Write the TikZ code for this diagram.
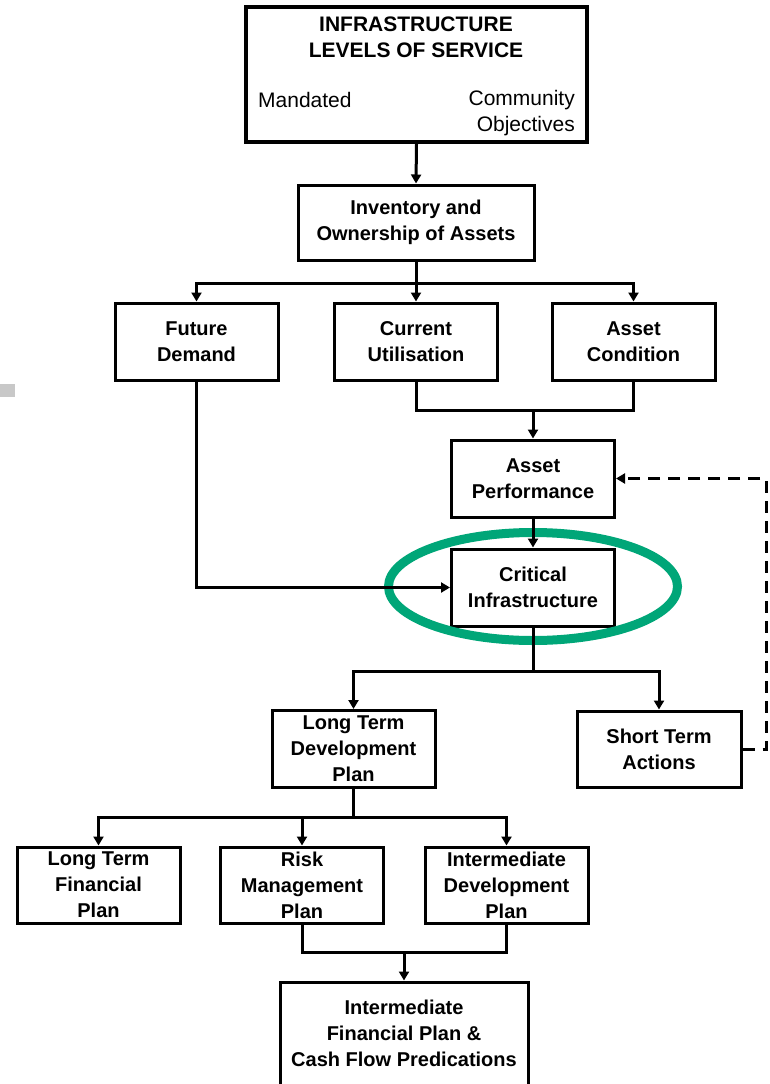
\documentclass[tikz,border=0pt]{standalone}
\usepackage{fontspec}
\setmainfont{Liberation Sans}
\usetikzlibrary{arrows.meta,shapes.geometric}
\definecolor{hlgreen}{RGB}{0,166,120}
\definecolor{markgrey}{RGB}{200,200,200}
\tikzset{
  box/.style={draw=black,line width=3pt,rectangle,align=center,inner sep=0pt,
    minimum width=163pt,minimum height=77pt,
    font=\fontsize{20}{26}\selectfont\bfseries},
  arr/.style={line width=3pt,-{Triangle[length=9pt,width=10pt]}},
  ln/.style={line width=3pt},
  dasharr/.style={line width=3pt,dash pattern=on 12pt off 8pt,-{Triangle[length=9pt,width=10pt]}},
  highlight/.style={draw=hlgreen,line width=9pt,ellipse,inner sep=0pt},
  txt/.style={inner sep=0pt,align=center,font=\fontsize{20}{26}\selectfont\bfseries},
  ttxt/.style={inner sep=0pt,align=center,font=\fontsize{21}{26}\selectfont\bfseries},
  rtxt/.style={inner sep=0pt,font=\fontsize{21}{26}\selectfont},
}
\begin{document}
\begin{tikzpicture}[x=1pt,y=-1pt]
\useasboundingbox (0,0) rectangle (769,1084);
\fill[markgrey] (0,384) rectangle (15,397);
% top box
\node[box,line width=4pt,minimum width=341pt,minimum height=135pt] (los) at (416.5,74.5) {};
\node[ttxt] (lostitle) at (416,37) {INFRASTRUCTURE\\LEVELS OF SERVICE};
\node[rtxt,anchor=west] (mand) at (258,100) {Mandated};
\node[rtxt,anchor=east,align=right] (comm) at (575,113) {Community\\Objectives};
% boxes
\node[box,minimum width=236pt,minimum height=75pt] (inv) at (416,222.5) {Inventory and\\Ownership of Assets};
\node[box] (fd) at (196.5,341.5) {Future\\Demand};
\node[box] (cu) at (416,341.5) {Current\\Utilisation};
\node[box] (ac) at (633.5,341.5) {Asset\\Condition};
\node[box] (ap) at (533,478.5) {Asset\\Performance};
\node[box] (cr) at (533,587.5) {Critical\\Infrastructure};
\node[box] (ltdp) at (353.5,749) {Long Term\\Development\\Plan};
\node[box,minimum width=164pt,minimum height=76pt] (sta) at (659,749) {Short Term\\Actions};
\node[box,minimum height=76pt] (ltfp) at (98.5,885) {Long Term\\Financial\\Plan};
\node[box,minimum height=76pt] (risk) at (302,885) {Risk\\Management\\Plan};
\node[box,minimum height=76pt] (idp) at (506.5,885) {Intermediate\\Development\\Plan};
\node[box,minimum width=248pt,minimum height=108pt] (fin) at (404,1036) {};
\node[txt] (fintxt) at (404,1033) {Intermediate\\Financial Plan \&\\Cash Flow Predications};
% highlight ellipse
\node[highlight,minimum width=289pt,minimum height=108pt] (hl) at (533,586.5) {};
% junctions
\coordinate (j1) at (416,283);
\coordinate (j2) at (533,410);
\coordinate (j3) at (533,671);
\coordinate (j4) at (353.5,817);
\coordinate (j5) at (404,952);
\coordinate (d1) at (766,600);
% connectors
\draw[arr] (los.south) -- (inv.north);
\draw[ln] (inv.south) -- (j1);
\draw[arr] (j1) -| (fd.north);
\draw[arr] (j1) -- (cu.north);
\draw[arr] (j1) -| (ac.north);
\draw[ln] (cu.south) |- (j2) -| (ac.south);
\draw[arr] (j2) -- (ap.north);
\draw[arr] (ap.south) -- (cr.north);
\draw[arr] (fd.south) |- (cr.west);
\draw[ln] (cr.south) -- (j3);
\draw[arr] (j3) -| (ltdp.north);
\draw[arr] (j3) -| (sta.north);
\draw[dasharr] (sta.east) -| (d1) |- (ap.east);
\draw[ln] (ltdp.south) -- (j4);
\draw[arr] (j4) -| (ltfp.north);
\draw[arr] (j4) -| (risk.north);
\draw[arr] (j4) -| (idp.north);
\draw[ln] (risk.south) |- (j5) -| (idp.south);
\draw[arr] (j5) -- (fin.north);
\end{tikzpicture}
\end{document}
